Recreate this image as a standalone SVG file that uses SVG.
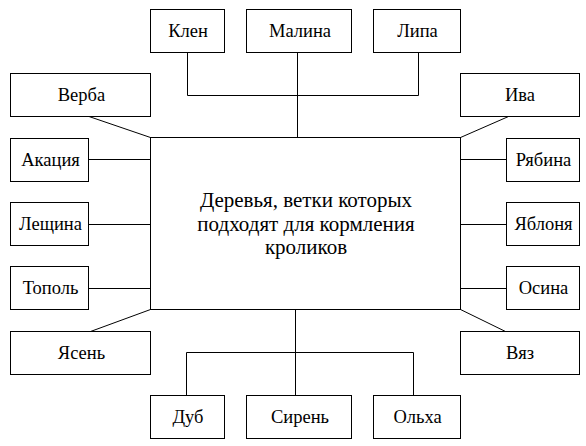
<svg xmlns="http://www.w3.org/2000/svg" width="586" height="446" viewBox="0 0 586 446" font-family="'Liberation Serif', 'DejaVu Serif', serif">
<style>
rect{fill:#fff;stroke:#000;stroke-width:1}
#connectors line,#connectors polyline{stroke:#000;stroke-width:1;fill:none}
text{font-family:'Liberation Serif','DejaVu Serif',serif;font-size:18.5px;fill:#000;text-anchor:middle}
.main{font-size:21px}
</style>
<rect x="0" y="0" width="586" height="446" style="stroke:none"/>
<g id="connectors">
<polyline points="187.5,52.5 187.5,95.5 418.5,95.5 418.5,52.5"/>
<line x1="297.5" y1="52.5" x2="297.5" y2="137.5"/>
<line x1="89" y1="116.5" x2="150.5" y2="137.5"/>
<line x1="508.5" y1="116.5" x2="460.5" y2="137.5"/>
<line x1="88.5" y1="159.5" x2="150.5" y2="159.5"/>
<line x1="88.5" y1="224.5" x2="150.5" y2="224.5"/>
<line x1="88.5" y1="288.5" x2="150.5" y2="288.5"/>
<line x1="460.5" y1="159.5" x2="506.5" y2="159.5"/>
<line x1="460.5" y1="224.5" x2="506.5" y2="224.5"/>
<line x1="460.5" y1="288.5" x2="506.5" y2="288.5"/>
<line x1="90.5" y1="331.5" x2="150.5" y2="309.5"/>
<line x1="505.5" y1="331.5" x2="460.5" y2="309.5"/>
<line x1="295.5" y1="309.5" x2="295.5" y2="395.5"/>
<polyline points="186.5,395.5 186.5,352.5 413.5,352.5 413.5,395.5"/>
</g>
<g id="main"><rect x="150.5" y="137.5" width="310" height="172"/>
<text class="main" x="306" y="207">Деревья, ветки которых</text>
<text class="main" x="306" y="231">подходят для кормления</text>
<text class="main" x="306" y="254">кроликов</text></g>
<g id="klen"><rect x="150.5" y="9.5" width="74" height="43"/><text x="188" y="37">Клен</text></g>
<g id="malina"><rect x="246.5" y="9.5" width="105" height="43"/><text x="300" y="37">Малина</text></g>
<g id="lipa"><rect x="373.5" y="9.5" width="87" height="43"/><text x="417.5" y="37">Липа</text></g>
<g id="verba"><rect x="10.5" y="73.5" width="140" height="43"/><text x="81.5" y="101">Верба</text></g>
<g id="iva"><rect x="460.5" y="73.5" width="119" height="43"/><text x="520" y="101">Ива</text></g>
<g id="akaciya"><rect x="10.5" y="138.5" width="78" height="43"/><text x="50.5" y="166">Акация</text></g>
<g id="leshchina"><rect x="10.5" y="202.5" width="78" height="43"/><text x="50.5" y="230">Лещина</text></g>
<g id="topol"><rect x="10.5" y="266.5" width="78" height="43"/><text x="50.5" y="294">Тополь</text></g>
<g id="ryabina"><rect x="506.5" y="138.5" width="73" height="43"/><text x="543.5" y="166">Рябина</text></g>
<g id="yablonya"><rect x="506.5" y="202.5" width="73" height="43"/><text x="543.5" y="230">Яблоня</text></g>
<g id="osina"><rect x="506.5" y="266.5" width="73" height="43"/><text x="543.5" y="294">Осина</text></g>
<g id="yasen"><rect x="10.5" y="331.5" width="140" height="43"/><text x="81.5" y="359">Ясень</text></g>
<g id="vyaz"><rect x="460.5" y="331.5" width="119" height="43"/><text x="520" y="359">Вяз</text></g>
<g id="dub"><rect x="150.5" y="395.5" width="74" height="43"/><text x="188" y="423">Дуб</text></g>
<g id="siren"><rect x="246.5" y="395.5" width="105" height="43"/><text x="300" y="423">Сирень</text></g>
<g id="olkha"><rect x="373.5" y="395.5" width="87" height="43"/><text x="417.5" y="423">Ольха</text></g>
</svg>
